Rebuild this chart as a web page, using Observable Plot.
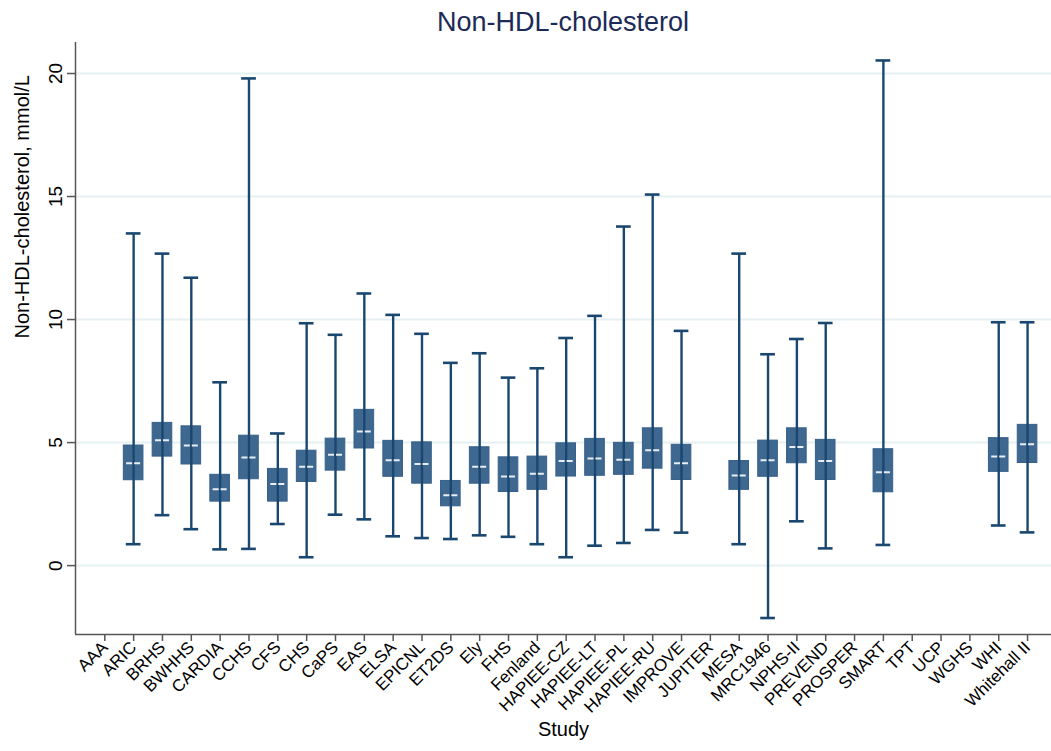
<!DOCTYPE html>
<html><head><meta charset="utf-8">
<script src="https://cdn.jsdelivr.net/npm/d3@7"></script>
<script src="https://cdn.jsdelivr.net/npm/@observablehq/plot@0.6"></script>
<style>
body{margin:0;background:#fff;font-family:"Liberation Sans",Arial,sans-serif;}
#title{width:976px;height:42px;padding-left:75px;text-align:center;font-size:27px;line-height:44px;color:#1b2a56;}
#chart svg{display:block;}
</style></head><body>
<div id="title">Non-HDL-cholesterol</div>
<div id="chart"></div>
<script>
const studies = ["AAA","ARIC","BRHS","BWHHS","CARDIA","CCHS","CFS","CHS","CaPS","EAS","ELSA","EPICNL","ET2DS","Ely","FHS","Fenland","HAPIEE-CZ","HAPIEE-LT","HAPIEE-PL","HAPIEE-RU","IMPROVE","JUPITER","MESA","MRC1946","NPHS-II","PREVEND","PROSPER","SMART","TPT","UCP","WGHS","WHI","Whitehall II"];
const whiskerLow  = [null,0.87,2.05,1.48,0.66,0.68,1.69,0.34,2.07,1.88,1.19,1.12,1.08,1.23,1.17,0.87,0.34,0.81,0.92,1.45,1.34,null,0.87,-2.13,1.80,0.70,null,0.84,null,null,null,1.63,1.35];
const q1          = [null,3.47,4.43,4.11,2.60,3.51,2.60,3.40,3.86,4.76,3.61,3.33,2.41,3.33,2.99,3.08,3.62,3.65,3.69,3.94,3.48,null,3.08,3.61,4.16,3.48,null,2.98,null,null,null,3.81,4.17];
const median      = [null,4.16,5.09,4.88,3.10,4.39,3.32,4.02,4.51,5.45,4.28,4.13,2.86,4.02,3.62,3.73,4.25,4.35,4.30,4.69,4.16,null,3.66,4.28,4.82,4.25,null,3.79,null,null,null,4.43,4.93];
const q3          = [null,4.88,5.80,5.66,3.69,5.28,3.93,4.67,5.16,6.33,5.07,5.01,3.44,4.81,4.40,4.43,4.97,5.15,4.99,5.58,4.91,null,4.25,5.08,5.58,5.11,null,4.73,null,null,null,5.18,5.72];
const whiskerHigh = [null,13.5,12.68,11.7,7.45,19.8,5.37,9.85,9.38,11.06,10.19,9.42,8.24,8.63,7.64,8.02,9.25,10.15,13.78,15.08,9.54,null,12.68,8.59,9.21,9.86,null,20.53,null,null,null,9.89,9.89];
const yTicks = [0,5,10,15,20];

const rows = studies.map((s,i)=>({i, s, lo:whiskerLow[i], q1:q1[i], med:median[i], q3:q3[i], hi:whiskerHigh[i]})).filter(d=>d.med!=null);

const xDomain = [-1.016, 32.83];
const yDomain = [-2.8, 21.26];
const boxHalf = 0.34, capHalf = 0.255, medHalf = 0.243;
const navy = "#1a476f";

const chart = Plot.plot({
  width:1051, height:709, marginLeft:75, marginRight:0, marginTop:0, marginBottom:117,
  style:{fontFamily:"Liberation Sans, Arial, sans-serif", fontSize:"17px", color:"#000", background:"#fff", overflow:"visible"},
  x:{type:"linear", domain:xDomain},
  y:{domain:yDomain},
  marks:[
    Plot.gridY(yTicks, {stroke:"#e6eff1", strokeOpacity:1, strokeWidth:2}),
    Plot.rect(rows, {x1:d=>d.i-boxHalf, x2:d=>d.i+boxHalf, y1:"q1", y2:"q3", fill:"#3f6890", stroke:"#36608a", strokeWidth:1}),
    Plot.ruleX(rows, {x:"i", y1:"lo", y2:"hi", stroke:navy, strokeWidth:2.4}),
    Plot.ruleY(rows, {y:"lo", x1:d=>d.i-capHalf, x2:d=>d.i+capHalf, stroke:navy, strokeWidth:2.6}),
    Plot.ruleY(rows, {y:"hi", x1:d=>d.i-capHalf, x2:d=>d.i+capHalf, stroke:navy, strokeWidth:2.6}),
    Plot.ruleY(rows, {y:"med", x1:d=>d.i-medHalf, x2:d=>d.i+medHalf, stroke:"#e8eef4", strokeWidth:2, strokeDasharray:"6,2"}),
    Plot.ruleX([xDomain[0]], {stroke:"#555", strokeWidth:1.5}),
    Plot.ruleY([yDomain[0]], {stroke:"#555", strokeWidth:1.5}),
    Plot.axisY(yTicks, {tickSize:8, tickPadding:6, tickRotate:-90, fontSize:19, stroke:"#555", strokeWidth:1.5, label:null}),
    Plot.axisX(d3.range(studies.length), {tickSize:7, tickPadding:3, tickRotate:-45, fontSize:17, stroke:"#555", strokeWidth:1.5, tickFormat:i=>studies[i], label:null}),
    Plot.text(["Non-HDL-cholesterol, mmol/L"], {frameAnchor:"left", dx:-53, rotate:-90, text:d=>d, fontSize:20, fill:"#000"}),
    Plot.text(["Study"], {frameAnchor:"bottom", dy:101, text:d=>d, fontSize:20, fill:"#000"})
  ]
});
document.getElementById("chart").appendChild(chart);
</script>
</body></html>
